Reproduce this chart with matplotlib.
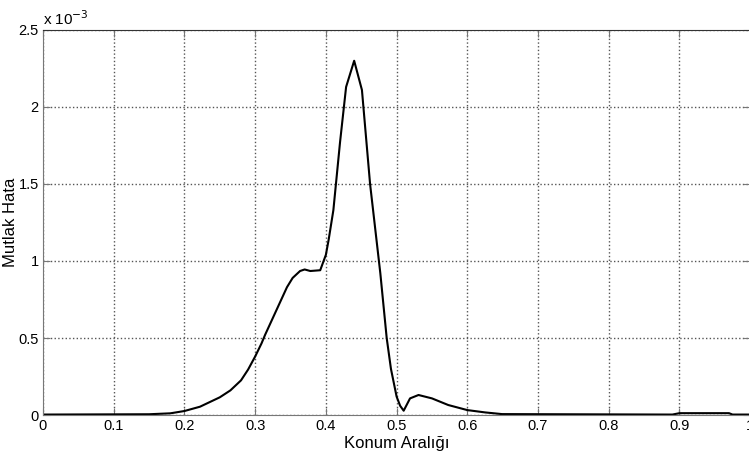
import numpy as np
import matplotlib
matplotlib.use("Agg")
import matplotlib.pyplot as plt
from matplotlib.ticker import FuncFormatter

plt.rcParams['font.family'] = ['Liberation Sans', 'DejaVu Sans']

# konum araligi ve mutlak hata (x 1e-3)
konum = [0.0, 0.15, 0.18, 0.2, 0.222, 0.25, 0.265, 0.28, 0.29, 0.3, 0.309,
         0.314, 0.322, 0.33, 0.338, 0.345, 0.353, 0.3635, 0.37, 0.378, 0.392,
         0.4, 0.404, 0.4106, 0.42, 0.4286, 0.44, 0.451, 0.4625, 0.477, 0.486,
         0.492, 0.5, 0.505, 0.51, 0.519, 0.531, 0.55, 0.573, 0.6, 0.625, 0.649,
         0.89, 0.9, 0.97, 0.975, 1.0]
hata = [0.003, 0.005, 0.011, 0.026, 0.054, 0.115, 0.16, 0.225, 0.295, 0.38, 0.465,
        0.52, 0.6, 0.68, 0.76, 0.83, 0.89, 0.935, 0.945, 0.935, 0.94,
        1.04, 1.14, 1.33, 1.77, 2.13, 2.30, 2.11, 1.5, 0.92, 0.5,
        0.3, 0.12, 0.06, 0.028, 0.108, 0.13, 0.108, 0.065, 0.032, 0.017, 0.006,
        0.003, 0.012, 0.012, 0.003, 0.003]

x = np.array(konum)
y = np.array(hata) * 1e-3

fig = plt.figure(figsize=(7.49, 4.68), dpi=100)
ax = fig.add_axes([0.0574, 0.1132, 0.9442, 0.8228])

ax.plot(x, y, color='black', linewidth=1.5)

ax.set_xlim(0, 1)
ax.set_ylim(0, 2.5e-3)
ax.set_xticks(np.arange(0, 1.01, 0.1))
ax.set_yticks(np.arange(0, 2.51e-3, 0.5e-3))
ax.xaxis.set_major_formatter(FuncFormatter(lambda v, p: f"{v:g}"))
ax.yaxis.set_major_formatter(FuncFormatter(lambda v, p: f"{v * 1e3:g}"))

ax.grid(True, linestyle=':', color='#555555', linewidth=1.0)
ax.tick_params(direction='in', length=5, color='#777777', labelsize=10.5,
               top=True, right=True, pad=3)
for s in ax.spines.values():
    s.set_color('#777777')
ax.spines['top'].set_color('#333333')

ax.set_xlabel("Konum Aralığı", fontsize=12, labelpad=2)
ax.set_ylabel("Mutlak Hata", fontsize=12)
ax.yaxis.set_label_coords(-0.035, 0.5)
ax.text(0.0, 1.005, r"x 10$^{-3}$", transform=ax.transAxes, fontsize=11,
        ha='left', va='bottom')

fig.savefig("out.png", dpi=100)
